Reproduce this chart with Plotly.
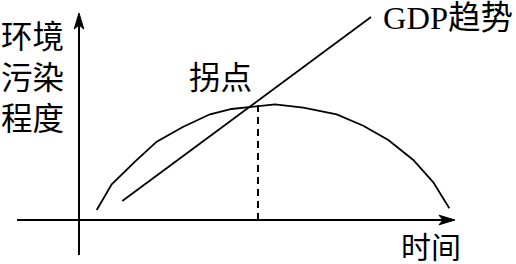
import plotly.graph_objects as go

# Environmental Kuznets curve data (arbitrary units: time t, pollution level v)
curve_t = [17.7, 32.7, 56, 77.7, 104.3, 131, 152.7, 171, 196, 224.3, 257.7, 284.3, 309.3, 334.3, 354.3, 370.3]
curve_v = [10, 35.7, 58.3, 78.3, 93.3, 105.7, 111, 113.3, 115.7, 112.3, 105.7, 94.3, 80, 60, 37.7, 11.7]

gdp_t = [43.3, 292]
gdp_v = [19, 203]

turn_t = 179
turn_v = 115

# axis extents
x_axis_start, x_axis_end = -62, 376
y_axis_start, y_axis_end = -35, 207

y_label = "环境<br>污染<br>程度"
x_label = "时间"
turn_label = "拐点"
gdp_label = "GDP趋势"

FONT = "Liberation Serif, Noto Sans CJK SC, serif"
BLACK = "#000000"

fig = go.Figure()

fig.add_trace(go.Scatter(x=curve_t, y=curve_v, mode="lines",
                         line=dict(color=BLACK, width=1.8), hoverinfo="skip"))
fig.add_trace(go.Scatter(x=gdp_t, y=gdp_v, mode="lines",
                         line=dict(color=BLACK, width=1.8), hoverinfo="skip"))
fig.add_trace(go.Scatter(x=[turn_t, turn_t], y=[0, turn_v], mode="lines",
                         line=dict(color=BLACK, width=2, dash="7px,5px"), hoverinfo="skip"))

# axes lines
fig.add_shape(type="line", x0=x_axis_start, y0=0, x1=x_axis_end - 10, y1=0,
              line=dict(color=BLACK, width=2))
fig.add_shape(type="line", x0=0, y0=y_axis_start, x1=0, y1=y_axis_end - 10,
              line=dict(color=BLACK, width=2))

# arrowheads (barbed)
L, H, B = 16, 4.8, 4
xh = (f"M{x_axis_end},0 L{x_axis_end - L},{H} L{x_axis_end - L + B},0 "
      f"L{x_axis_end - L},{-H} Z")
yh = (f"M0,{y_axis_end} L{H},{y_axis_end - L} L0,{y_axis_end - L + B} "
      f"L{-H},{y_axis_end - L} Z")
for p in (xh, yh):
    fig.add_shape(type="path", path=p, fillcolor=BLACK, line=dict(color=BLACK, width=1))

fig.add_annotation(x=-47, y=142, text=y_label, showarrow=False,
                   xanchor="center", yanchor="middle",
                   font=dict(family=FONT, size=31.5, color=BLACK))
fig.add_annotation(x=141, y=141.5, text=turn_label, showarrow=False,
                   xanchor="center", yanchor="middle",
                   font=dict(family=FONT, size=31.5, color=BLACK))
fig.add_annotation(x=436, y=202, text=gdp_label, showarrow=False,
                   xanchor="right", yanchor="middle",
                   font=dict(family=FONT, size=32.5, color=BLACK))
fig.add_annotation(x=352, y=-27.5, text=x_label, showarrow=False,
                   xanchor="center", yanchor="middle",
                   font=dict(family=FONT, size=30, color=BLACK))

fig.update_layout(
    width=516, height=264, autosize=False,
    margin=dict(l=0, r=0, t=0, b=0, pad=0),
    paper_bgcolor="white", plot_bgcolor="white",
    showlegend=False,
    xaxis=dict(range=[-79, 437], visible=False, showgrid=False, zeroline=False, fixedrange=True),
    yaxis=dict(range=[-44, 220], visible=False, showgrid=False, zeroline=False, fixedrange=True),
)

fig.write_html("out.html", config={"displayModeBar": False})
